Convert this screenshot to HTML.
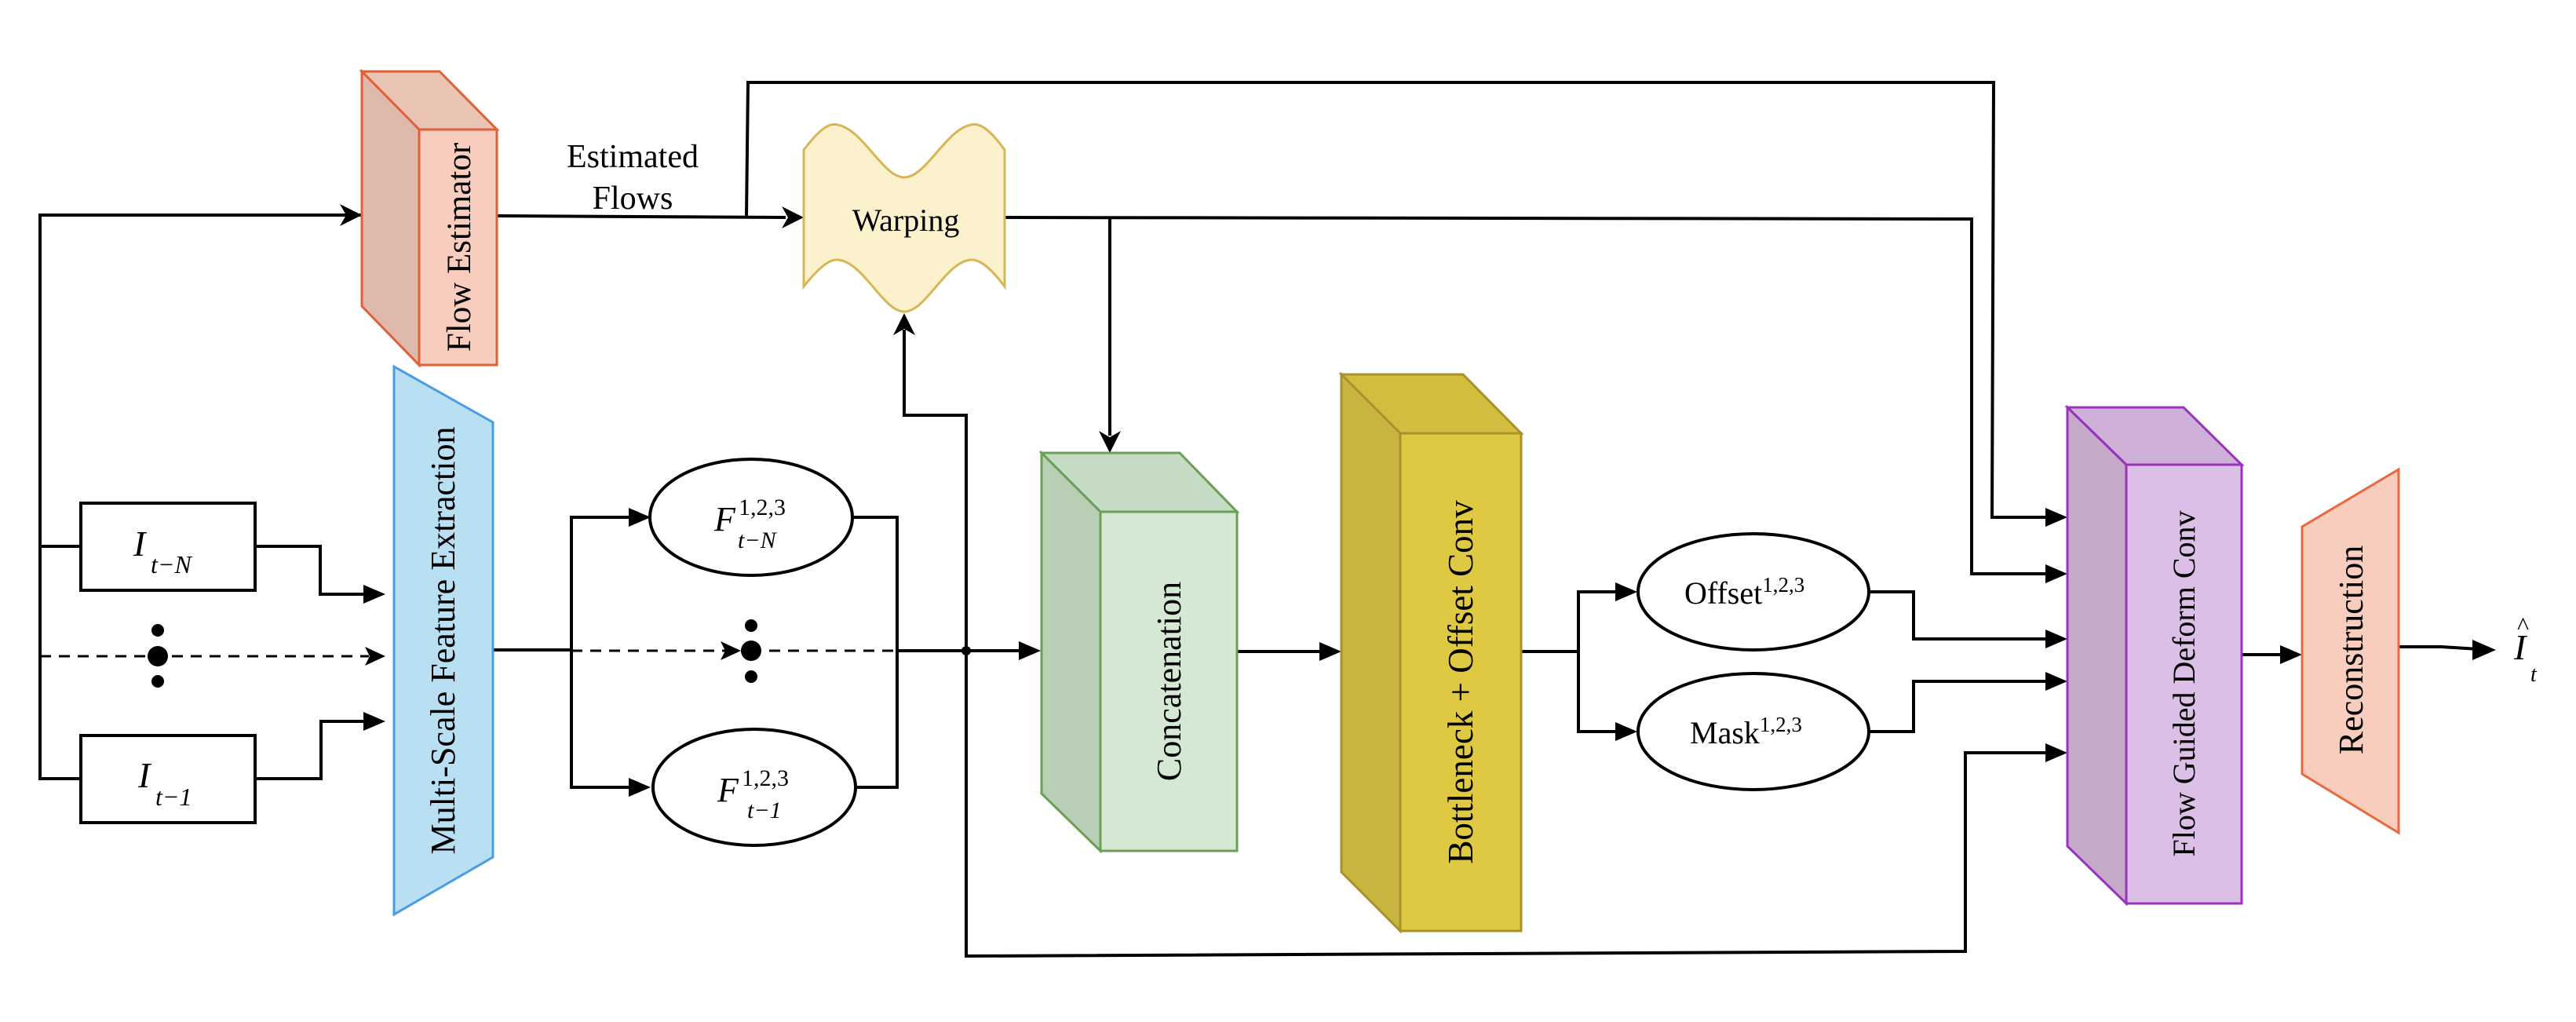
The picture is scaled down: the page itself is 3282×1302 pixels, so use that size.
<!DOCTYPE html>
<html><head><meta charset="utf-8"><style>
html,body{margin:0;padding:0;background:#fff;}
svg{display:block;}
text{font-family:"Liberation Serif",serif;fill:#000;}
</style></head><body>
<svg width="3282" height="1302" viewBox="0 0 3282 1302" xmlns="http://www.w3.org/2000/svg">
<g stroke="#000" stroke-width="4" fill="none">
<polyline points="470,274 51,274 51,992 103,992"/>
<line x1="51" y1="696" x2="103" y2="696"/>
<polyline points="325,696 408,696 408,757 470,757"/>
<polyline points="325,992 409,992 409,919 470,919"/>
<line x1="51" y1="836" x2="470" y2="836" stroke-dasharray="14,10" stroke-width="3"/>
<line x1="628" y1="828" x2="728" y2="828"/>
<polyline points="808,659 728,659 728,1003 808,1003"/>
<line x1="728" y1="829" x2="925" y2="829" stroke-dasharray="14,10" stroke-width="3"/>
<line x1="980" y1="829" x2="1143" y2="829" stroke-dasharray="14,10" stroke-width="3"/>
<polyline points="1086,659 1143,659 1143,1003 1090,1003"/>
<line x1="1143" y1="829" x2="1302" y2="829"/>
<polyline points="1231,829 1231,529 1152,529 1152,420"/>
<polyline points="1231,829 1231,1218 2504,1212 2504,959 2612,959"/>
<polyline points="633,275 1001,277"/>
<polyline points="951,277 953,105 2540,105 2538,659 2612,659"/>
<polyline points="1280,277 2512,279 2512,731 2612,731"/>
<line x1="1414" y1="277" x2="1414" y2="555"/>
<line x1="1576" y1="830" x2="1687" y2="830"/>
<polyline points="1938,830 2011,830"/>
<polyline points="2064,754 2011,754 2011,932 2064,932"/>
<polyline points="2381,754 2438,754 2438,814 2612,814"/>
<polyline points="2381,932 2438,932 2438,868 2612,868"/>
<line x1="2856" y1="834" x2="2911" y2="834"/>
<polyline points="3056,824 3110,824 3158,827"/>
</g>
<circle cx="1231" cy="829" r="6" fill="#000"/>
<g fill="#000">
<polygon points="461,274 433,260 441,274 433,288"/>
<polygon points="491,757 463,745 463,769"/>
<polygon points="491,836 465,824 471,836 465,848"/>
<polygon points="491,919 463,907 463,931"/>
<polygon points="829,659 801,647 801,671"/>
<polygon points="829,1003 801,991 801,1015"/>
<polygon points="944,829 918,817 924,829 918,841"/>
<polygon points="1024,277 996,263 1004,277 996,291"/>
<polygon points="1152,399 1138,427 1152,419 1166,427"/>
<polygon points="1326,829 1298,817 1298,841"/>
<polygon points="1414,577 1400,549 1414,557 1428,549"/>
<polygon points="1709,830 1681,818 1681,842"/>
<polygon points="2086,754 2058,742 2058,766"/>
<polygon points="2086,932 2058,920 2058,944"/>
<polygon points="2634,659 2606,647 2606,671"/>
<polygon points="2634,731 2606,719 2606,743"/>
<polygon points="2634,814 2606,802 2606,826"/>
<polygon points="2634,868 2606,856 2606,880"/>
<polygon points="2634,959 2606,947 2606,971"/>
<polygon points="2933,834 2905,822 2905,846"/>
<polygon points="3180,828 3150,815 3150,841"/>
</g>
<g fill="#000">
<circle cx="201" cy="803" r="8"/><circle cx="201" cy="836" r="13"/><circle cx="201" cy="868" r="8"/>
<circle cx="957" cy="797" r="8"/><circle cx="957" cy="829" r="13"/><circle cx="957" cy="862" r="8"/>
</g>
<rect x="103" y="641" width="222" height="111" fill="#fff" stroke="#000" stroke-width="4"/>
<rect x="103" y="937" width="222" height="111" fill="#fff" stroke="#000" stroke-width="4"/>
<text x="170" y="708" font-size="46" font-style="italic">I</text>
<text x="192" y="730" font-size="32" font-style="italic">t−N</text>
<text x="176" y="1003" font-size="46" font-style="italic">I</text>
<text x="198" y="1026" font-size="32" font-style="italic">t−1</text>
<polygon points="461,91 560,91 633,165 534,165" fill="#e9c3b4" stroke="#e0603a" stroke-width="3"/>
<polygon points="461,91 534,165 534,465 461,390" fill="#dfb9ab" stroke="#e0603a" stroke-width="3"/>
<rect x="534" y="165" width="99" height="300" fill="#f8cdbd" stroke="#e0603a" stroke-width="3"/>
<text transform="translate(599,315) rotate(-90)" font-size="43" text-anchor="middle">Flow Estimator</text>
<polygon points="502,467 628,538 628,1092 502,1165" fill="#b9dff3" stroke="#4a9de0" stroke-width="3"/>
<text transform="translate(579,816) rotate(-90)" font-size="44" text-anchor="middle">Multi-Scale Feature Extraction</text>
<ellipse cx="957" cy="659" rx="129" ry="74" fill="#fff" stroke="#000" stroke-width="4"/>
<ellipse cx="961" cy="1003" rx="129" ry="74" fill="#fff" stroke="#000" stroke-width="4"/>
<text x="910" y="676" font-size="44" font-style="italic">F</text>
<text x="941" y="656" font-size="30">1,2,3</text>
<text x="940" y="698" font-size="30" font-style="italic">t−N</text>
<text x="914" y="1021" font-size="44" font-style="italic">F</text>
<text x="945" y="1001" font-size="30">1,2,3</text>
<text x="952" y="1042" font-size="30" font-style="italic">t−1</text>
<text x="806" y="213" font-size="42" text-anchor="middle">Estimated</text>
<text x="806" y="266" font-size="42" text-anchor="middle">Flows</text>
<path d="M1024,191 C1040,170 1055,155 1067,159 C1100,165 1125,226 1152,226 C1180,226 1205,165 1237,159 C1250,155 1265,170 1280,191 L1280,365 C1265,345 1250,330 1237,331 C1205,333 1180,397 1152,397 C1125,397 1100,333 1067,331 C1055,330 1040,345 1024,365 Z" fill="#fcf1cd" stroke="#d6b656" stroke-width="3"/>
<text x="1154" y="294" font-size="40" text-anchor="middle">Warping</text>
<polygon points="1327,577 1503,577 1576,652 1402,652" fill="#c5dbc3" stroke="#6a9f58" stroke-width="3"/>
<polygon points="1327,577 1402,652 1402,1084 1327,1011" fill="#b8cfb5" stroke="#6a9f58" stroke-width="3"/>
<rect x="1402" y="652" width="174" height="432" fill="#d5e8d4" stroke="#6a9f58" stroke-width="3"/>
<text transform="translate(1504,868) rotate(-90)" font-size="44" text-anchor="middle">Concatenation</text>
<polygon points="1709,477 1864,477 1938,552 1784,552" fill="#d4bd3e" stroke="#a8922e" stroke-width="3"/>
<polygon points="1709,477 1784,552 1784,1186 1709,1111" fill="#c8b43e" stroke="#a8922e" stroke-width="3"/>
<rect x="1784" y="552" width="154" height="634" fill="#e0c942" stroke="#a8922e" stroke-width="3"/>
<text transform="translate(1876,869) rotate(-90)" font-size="45" text-anchor="middle">Bottleneck  + Offset Conv</text>
<ellipse cx="2234" cy="754" rx="147" ry="74" fill="#fff" stroke="#000" stroke-width="4"/>
<ellipse cx="2234" cy="932" rx="147" ry="74" fill="#fff" stroke="#000" stroke-width="4"/>
<text x="2146" y="769" font-size="40">Offset<tspan font-size="27" dy="-15">1,2,3</tspan></text>
<text x="2153" y="947" font-size="40">Mask<tspan font-size="27" dy="-15">1,2,3</tspan></text>
<polygon points="2634,519 2782,519 2856,592 2709,592" fill="#cfb0d8" stroke="#9933bb" stroke-width="3"/>
<polygon points="2634,519 2709,592 2709,1151 2634,1078" fill="#c5a9c9" stroke="#9933bb" stroke-width="3"/>
<rect x="2709" y="592" width="147" height="559" fill="#dcbfe6" stroke="#9933bb" stroke-width="3"/>
<text transform="translate(2796,871) rotate(-90)" font-size="40" text-anchor="middle">Flow Guided Deform Conv</text>
<polygon points="2933,671 3056,598 3056,1061 2933,986" fill="#f8cdbd" stroke="#e9683e" stroke-width="3"/>
<text transform="translate(3010,828) rotate(-90)" font-size="44" text-anchor="middle">Reconstruction</text>
<text x="3203" y="840" font-size="46" font-style="italic">I</text>
<text x="3207" y="808" font-size="32">^</text>
<text x="3224" y="868" font-size="28" font-style="italic">t</text>
</svg>
</body></html>
